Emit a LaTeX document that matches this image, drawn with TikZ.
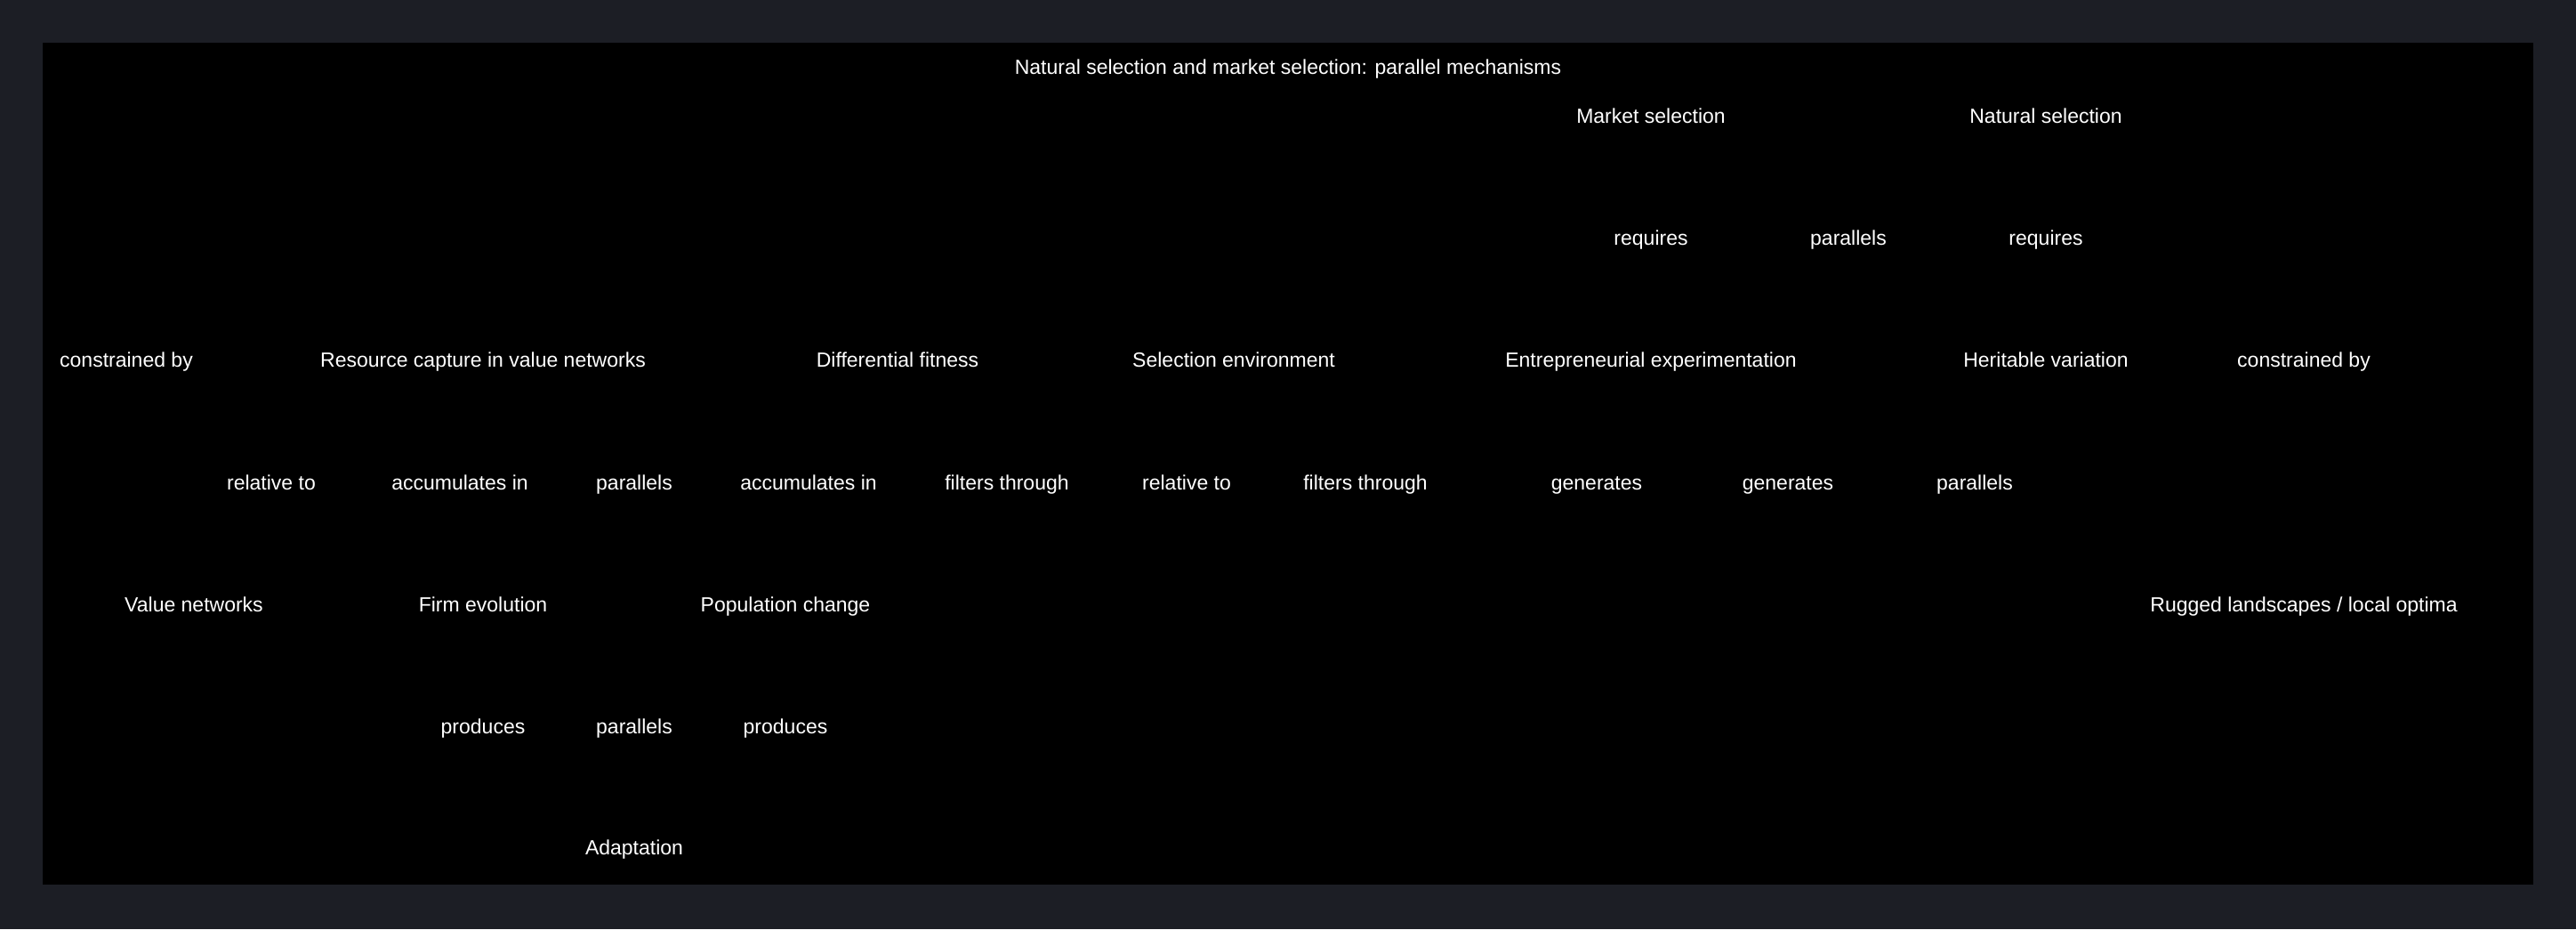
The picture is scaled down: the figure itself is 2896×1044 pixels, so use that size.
\documentclass[tikz,border=0pt]{standalone}
\usepackage{fontspec}
\setmainfont{Liberation Sans}
\usetikzlibrary{positioning}
\definecolor{pagebg}{RGB}{28,30,37}
\begin{document}
\begin{tikzpicture}[x=0.5pt,y=-0.5pt]
\tikzstyle{label}=[text=white,inner sep=1pt,text height=1.6ex,text depth=.4ex,
font=\fontsize{11.5}{14}\selectfont]
\useasboundingbox (0,0) rectangle (2896,1044);
\fill[pagebg] (0,0) rectangle (2896,1044);
\fill[black] (48,48) rectangle (2848,994);

\node[label] at (1448,77)	(title) {Natural selection and market selection: parallel mechanisms};
\node[label] at (1856,132)	(ms) {Market selection};
\node[label] at (2300,132)	(ns) {Natural selection};

\node[label] at (1856,269)	(req1) {requires};
\node[label] at (2078,269)	(par1) {parallels};
\node[label] at (2300,269)	(req2) {requires};

\node[label] at (142,406)	(con1) {constrained by};
\node[label] at (543,406)	(rc) {Resource capture in value networks};
\node[label] at (1009,406)	(df) {Differential fitness};
\node[label] at (1387,406)	(se) {Selection environment};
\node[label] at (1856,406)	(ee) {Entrepreneurial experimentation};
\node[label] at (2300,406)	(hv) {Heritable variation};
\node[label] at (2590,406)	(con2) {constrained by};

\node[label] at (305,544)	(rel1) {relative to};
\node[label] at (517,544)	(acc1) {accumulates in};
\node[label] at (713,544)	(par2) {parallels};
\node[label] at (909,544)	(acc2) {accumulates in};
\node[label] at (1132,544)	(fil1) {filters through};
\node[label] at (1334,544)	(rel2) {relative to};
\node[label] at (1535,544)	(fil2) {filters through};
\node[label] at (1795,544)	(gen1) {generates};
\node[label] at (2010,544)	(gen2) {generates};
\node[label] at (2220,544)	(par3) {parallels};

\node[label] at (218,681)	(vn) {Value networks};
\node[label] at (543,681)	(fe) {Firm evolution};
\node[label] at (883,681)	(pc) {Population change};
\node[label] at (2590,681)	(rl) {Rugged landscapes / local optima};

\node[label] at (543,818)	(pro1) {produces};
\node[label] at (713,818)	(par4) {parallels};
\node[label] at (883,818)	(pro2) {produces};

\node[label] at (713,954)	(ad) {Adaptation};

\end{tikzpicture}
\end{document}
